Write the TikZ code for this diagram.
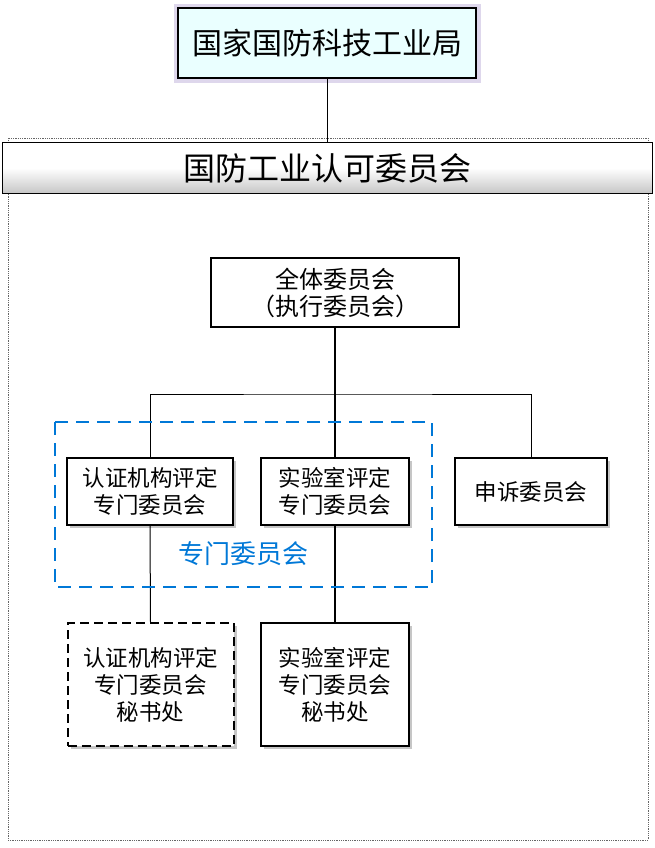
\documentclass[tikz,border=0pt]{standalone}
\usepackage{fontspec}
\setmainfont{Noto Sans CJK SC}
\usetikzlibrary{shadows}
\definecolor{topfill}{RGB}{234,255,255}
\definecolor{glow}{RGB}{222,215,236}
\definecolor{blueline}{RGB}{0,120,215}
\tikzset{
  cbox/.style={draw=black, line width=1.5pt, fill=white, inner sep=0pt, align=center,
    font=\fontsize{22.5}{27}\selectfont,
    drop shadow={shadow xshift=3pt, shadow yshift=-3pt, fill=gray!45, opacity=1}},
  link/.style={draw=black, line width=1pt},
}
\begin{document}
\begin{tikzpicture}[x=1pt,y=-1pt]
\useasboundingbox (0,0) rectangle (654,848);
% outer frame
\draw[gray!80!black, densely dotted, line width=0.8pt] (8,138) rectangle (648,840);
% top box with glow
\fill[glow] (174,4) rectangle (481,83);
\node[draw=black, line width=1.5pt, fill=topfill, minimum width=298pt, minimum height=70pt, inner sep=0pt,
  font=\fontsize{30}{34}\selectfont] (top) at (327,43) {国家国防科技工业局};
% title bar
\node[draw=black, line width=1pt, minimum width=650pt, minimum height=51pt, inner sep=0pt,
  top color=white, bottom color=gray!45, middle color=white, shading angle=0,
  font=\fontsize{32}{36}\selectfont] (title) at (327,168) {国防工业认可委员会};
\draw[line width=1pt] (top.south) -- (title.north);
% full committee
\node[draw=black, line width=1.5pt, fill=white, minimum width=248pt, minimum height=69pt, inner sep=0pt,
  align=center, font=\fontsize{24}{27}\selectfont] (full) at (335,292.5) {全体委员会\\（执行委员会）};
% committees
\node[cbox, minimum width=166pt, minimum height=67pt] (c1) at (150,491.5) {认证机构评定\\专门委员会};
\node[cbox, minimum width=148pt, minimum height=67pt] (c2) at (335,491.5) {实验室评定\\专门委员会};
\node[cbox, minimum width=152pt, minimum height=67pt] (c3) at (531,491.5) {申诉委员会};
% secretariats
\node[cbox, dashed, dash pattern=on 9pt off 5pt, line width=2pt, minimum width=166pt, minimum height=123pt] (s1) at (150.5,684.5) {认证机构评定\\专门委员会\\秘书处};
\node[cbox, minimum width=148pt, minimum height=123pt] (s2) at (335,684.5) {实验室评定\\专门委员会\\秘书处};
% connectors
\coordinate (hb) at (335,394);
\draw[line width=1.5pt] (full.south) -- (c2.north);
\draw[link] (c1.north) |- (hb) -| (c3.north);
\draw[link] (c1.south) -- (s1.north);
\draw[line width=1.5pt] (c2.south) -- (s2.north);
% blue dashed group
\draw[blueline, line width=2pt, dash pattern=on 13pt off 8pt] (55,422) rectangle (432,587);
\node[text=blueline, font=\fontsize{26}{30}\selectfont, inner sep=0pt] (grp) at (243,554) {专门委员会};
\end{tikzpicture}
\end{document}
